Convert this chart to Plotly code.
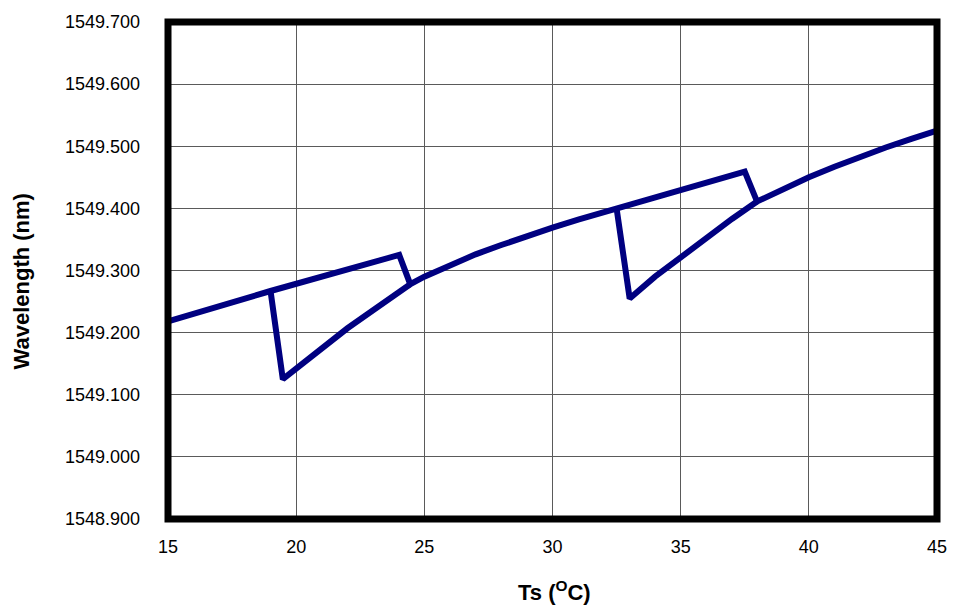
import plotly.graph_objects as go

# Outer branch: linear runs before each mode hop, then the smooth tuning curve
temp_outer = [15.0, 19.0, 24.02, 24.45, 25.0, 26.0, 27.0, 28.0, 29.0, 30.0, 31.0, 32.0, 32.5,
              37.5, 37.98, 39.0, 40.0, 41.0, 42.0, 43.0, 44.0, 45.0]
wl_outer = [1549.218, 1549.267, 1549.325, 1549.278, 1549.290, 1549.309, 1549.326, 1549.341,
            1549.356, 1549.369, 1549.382, 1549.394, 1549.400,
            1549.459, 1549.411, 1549.431, 1549.450, 1549.467, 1549.483, 1549.498, 1549.512, 1549.525]

# Inner branches: drop after each hop and recovery back onto the curve
temp_inner_1 = [19.0, 19.48, 20.0, 21.0, 22.0, 23.0, 23.5, 24.0, 24.45]
wl_inner_1 = [1549.267, 1549.125, 1549.142, 1549.175, 1549.207, 1549.236, 1549.250,
              1549.265, 1549.278]
temp_inner_2 = [32.5, 33.01, 34.0, 35.0, 36.0, 37.0, 37.98]
wl_inner_2 = [1549.400, 1549.255, 1549.290, 1549.322, 1549.353, 1549.383, 1549.411]

x_ticks = [15, 20, 25, 30, 35, 40, 45]
y_ticks = [1548.9, 1549.0, 1549.1, 1549.2, 1549.3, 1549.4, 1549.5, 1549.6, 1549.7]

line_style = dict(color="#000080", width=6)

fig = go.Figure()
for xs, ys in [(temp_outer, wl_outer), (temp_inner_1, wl_inner_1), (temp_inner_2, wl_inner_2)]:
    fig.add_trace(go.Scatter(x=xs, y=ys, mode="lines", line=line_style,
                             showlegend=False, hoverinfo="x+y"))

font_family = "Liberation Sans, Arial, Helvetica, sans-serif"
margin_l, margin_r, margin_t, margin_b = 168, 16, 15, 93
plot_w = 959 - margin_l - margin_r
plot_h = 612 - margin_t - margin_b

fig.update_layout(
    width=959, height=612,
    margin=dict(l=margin_l, r=margin_r, t=margin_t, b=margin_b),
    paper_bgcolor="white", plot_bgcolor="white",
    font=dict(family=font_family, size=18, color="black"),
    xaxis=dict(range=[15, 45], tickvals=x_ticks, ticktext=[str(v) for v in x_ticks],
               showgrid=True, gridcolor="#5a5a5a", gridwidth=1, zeroline=False,
               showline=False, ticks="", ticklabelstandoff=15,
               ticklabeloverflow="allow", tickfont=dict(size=18)),
    yaxis=dict(range=[1548.9, 1549.7], tickvals=y_ticks,
               ticktext=[f"{v:.3f}" for v in y_ticks],
               showgrid=True, gridcolor="#5a5a5a", gridwidth=1, zeroline=False,
               showline=False, ticks="", ticklabelstandoff=27,
               ticklabeloverflow="allow", tickfont=dict(size=18)),
    shapes=[dict(type="rect", xref="paper", yref="paper", x0=0, x1=1, y0=0, y1=1,
                 line=dict(color="black", width=7), layer="above")],
    annotations=[
        dict(text="<b>Ts (<sup>O</sup>C)</b>", xref="paper", yref="paper",
             x=(558 - margin_l) / plot_w, y=(519 - 592) / plot_h, showarrow=False,
             xanchor="center", yanchor="middle", font=dict(size=22)),
        dict(text="<b>Wavelength (nm)</b>", xref="paper", yref="paper",
             x=(20 - margin_l) / plot_w, y=(519 - 278) / plot_h, showarrow=False, textangle=-90,
             xanchor="center", yanchor="middle", font=dict(size=22)),
    ],
)

fig.write_html("out.html")
